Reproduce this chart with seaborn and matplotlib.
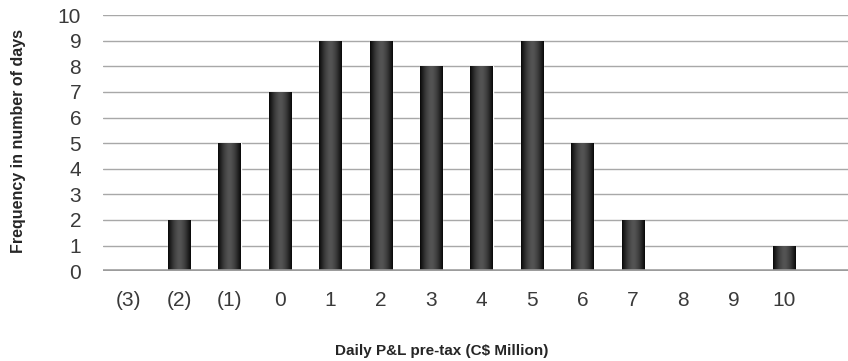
import numpy as np
import pandas as pd
import matplotlib
matplotlib.use("Agg")
import matplotlib.pyplot as plt
import seaborn as sns

categories = ["(3)", "(2)", "(1)", "0", "1", "2", "3", "4", "5", "6", "7", "8", "9", "10"]
frequency = [0, 2, 5, 7, 9, 9, 8, 8, 9, 5, 2, 0, 0, 1]
y_ticks = [0, 1, 2, 3, 4, 5, 6, 7, 8, 9, 10]

sns.set_style("white")
plt.rcParams["font.family"] = ["Liberation Sans", "DejaVu Sans"]

df = pd.DataFrame({"pnl": categories, "freq": frequency})

fig = plt.figure(figsize=(8.48, 3.61), dpi=100)
ax = fig.add_axes([0.122, 0.249, 0.878, 0.709])

sns.barplot(data=df, x="pnl", y="freq", order=categories, color="#3c3c3c",
            width=0.44, saturation=1, ax=ax, zorder=3)

# gradient fill (dark edges, lighter centre) clipped to each bar
grad = np.abs(np.linspace(-1, 1, 64))
grad = 0.33 - 0.30 * grad ** 1.6
img = np.tile(grad, (2, 1))
for p in ax.patches:
    x0, y0 = p.get_x(), p.get_y()
    w, h = p.get_width(), p.get_height()
    if h <= 0:
        continue
    im = ax.imshow(img, cmap="gray", vmin=0, vmax=1, aspect="auto",
                   extent=[x0, x0 + w, y0, y0 + h], zorder=4,
                   interpolation="bilinear")
    im.set_clip_path(p)

ax.set_xlim(-0.5, 14.27)
ax.set_ylim(0, 10)
ax.set_yticks(y_ticks)
for t in y_ticks[1:]:
    ax.axhline(t, color="#a8a8a8", lw=1.0, zorder=1)
ax.axhline(0, color="#9c9c9c", lw=2.6, zorder=5)

for s in ax.spines.values():
    s.set_visible(False)

ax.tick_params(axis="y", length=0, pad=16, labelsize=15, labelcolor="#3a3a3a")
ax.tick_params(axis="x", length=0, pad=14, labelsize=15, labelcolor="#3a3a3a")

ax_w = 848 * 0.878
ax_h = 361 * 0.709
ax.set_ylabel("Frequency in number of days", fontsize=11.5, fontweight="bold")
ax.yaxis.set_label_coords((18 - 103.4) / ax_w, (271 - 141) / ax_h)
ax.set_xlabel("Daily P&L pre-tax (C$ Million)", fontsize=11, fontweight="bold")
ax.xaxis.set_label_coords((442 - 103.4) / ax_w, -(351 - 271) / ax_h)
ax.xaxis.label.set_va("center")
ax.yaxis.label.set_va("center")

fig.savefig("out.png", dpi=100)
